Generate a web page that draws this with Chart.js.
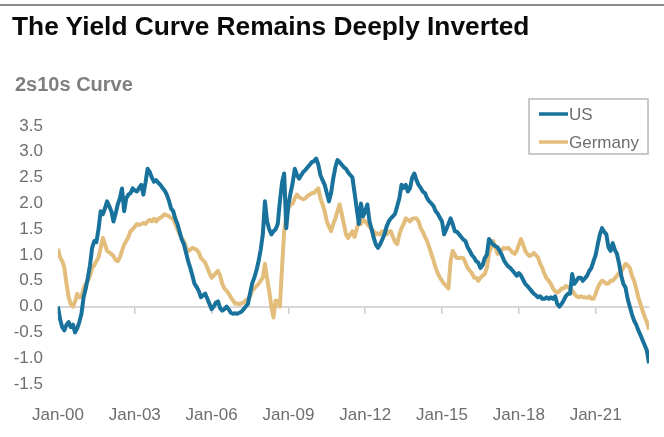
<!DOCTYPE html>
<html>
<head>
<meta charset="utf-8">
<script src="https://cdn.jsdelivr.net/npm/chart.js@4.4.1/dist/chart.umd.min.js"></script>
<style>
  html, body { margin: 0; padding: 0; background: #fff; overflow: hidden; }
  #wrap { position: relative; width: 664px; height: 437px; overflow: hidden; background: #fff; }
  #topRule { position: absolute; left: 0; top: 4px; width: 664px; height: 2px; background: #8c8c8c; }
  #title { position: absolute; left: 12px; top: 13px; font: bold 26.3px "Liberation Sans", Arial, sans-serif; line-height: 26px; color: #0a0a0a; white-space: nowrap; }
  #subtitle { position: absolute; left: 15px; top: 74px; font: bold 20px "Liberation Sans", Arial, sans-serif; line-height: 20px; color: #7f7f7f; white-space: nowrap; }
  canvas { position: absolute; left: -16px; top: 0; }
</style>
</head>
<body>
<div id="wrap">
  <canvas id="chart" width="680" height="460"></canvas>
  <div id="topRule"></div>
  <div id="title">The Yield Curve Remains Deeply Inverted</div>
  <div id="subtitle">2s10s Curve</div>
</div>
<script>
// Monthly 2s10s spreads (percentage points), January 2000 onward.
const seriesNames = ['US', 'Germany'];

const us = [
  0.00, -0.25, -0.40, -0.46, -0.35, -0.30, -0.40, -0.35, -0.50, -0.42, -0.30, -0.14, // 2000
  0.18, 0.35, 0.56, 0.80, 1.14, 1.27, 1.25, 1.50, 1.85, 1.79, 1.90, 2.04,             // 2001
  1.95, 1.85, 1.65, 1.80, 1.98, 2.10, 2.29, 1.85, 2.10, 2.17, 2.20, 2.29,             // 2002
  2.25, 2.23, 2.30, 2.36, 2.17, 2.40, 2.67, 2.61, 2.50, 2.42, 2.45, 2.40,             // 2003
  2.36, 2.30, 2.25, 2.17, 2.05, 1.90, 1.85, 1.70, 1.60, 1.45, 1.30, 1.21,             // 2004
  1.05, 0.88, 0.75, 0.60, 0.44, 0.38, 0.30, 0.18, 0.22, 0.25, 0.15, 0.05,             // 2005
  -0.05, 0.00, 0.08, 0.10, -0.03, -0.08, -0.05, 0.00, -0.05, -0.12, -0.14, -0.13,     // 2006
  -0.14, -0.12, -0.10, -0.05, 0.00, 0.05, 0.25, 0.45, 0.56, 0.70, 0.88, 1.10,         // 2007
  1.40, 2.04, 1.65, 1.50, 1.40, 1.46, 1.50, 1.60, 2.04, 2.40, 2.58, 1.52,             // 2008
  1.98, 2.20, 2.40, 2.67, 2.55, 2.48, 2.55, 2.61, 2.65, 2.70, 2.75, 2.80,             // 2009
  2.82, 2.87, 2.75, 2.55, 2.45, 2.36, 2.20, 2.04, 2.20, 2.48, 2.70, 2.84,             // 2010
  2.80, 2.75, 2.70, 2.67, 2.60, 2.55, 2.50, 2.20, 1.90, 1.60, 2.00, 1.75,             // 2011
  1.85, 1.98, 1.65, 1.50, 1.33, 1.20, 1.14, 1.21, 1.30, 1.40, 1.55, 1.65,             // 2012
  1.71, 1.75, 1.80, 1.95, 2.10, 2.36, 2.30, 2.36, 2.23, 2.30, 2.50, 2.58,             // 2013
  2.45, 2.36, 2.30, 2.23, 2.20, 2.10, 2.04, 2.00, 1.95, 1.85, 1.80, 1.72,             // 2014
  1.65, 1.40, 1.50, 1.60, 1.71, 1.60, 1.46, 1.45, 1.40, 1.35, 1.30, 1.27,             // 2015
  1.15, 1.08, 1.00, 0.95, 0.88, 0.85, 0.75, 0.80, 0.94, 1.00, 1.31, 1.25,             // 2016
  1.20, 1.17, 1.15, 1.08, 1.00, 0.90, 0.83, 0.78, 0.75, 0.70, 0.65, 0.60,             // 2017
  0.65, 0.60, 0.52, 0.44, 0.40, 0.35, 0.30, 0.25, 0.22, 0.18, 0.20, 0.15,             // 2018
  0.15, 0.18, 0.15, 0.18, 0.15, 0.20, 0.05, 0.00, 0.05, 0.12, 0.20, 0.25,             // 2019
  0.25, 0.63, 0.44, 0.50, 0.56, 0.56, 0.50, 0.55, 0.60, 0.69, 0.75, 0.88,             // 2020
  1.00, 1.21, 1.40, 1.52, 1.45, 1.40, 1.15, 1.08, 1.23, 1.10, 1.02, 0.83,             // 2021
  0.60, 0.44, 0.37, 0.15, 0.00, -0.15, -0.27, -0.35, -0.46, -0.55, -0.65, -0.75,      // 2022
  -0.85, -1.10                                                                        // 2023
];

const germany = [
  1.12, 0.95, 0.88, 0.75, 0.44, 0.18, 0.05, 0.00, 0.10, 0.25, 0.18, 0.20,             // 2000
  0.35, 0.44, 0.50, 0.60, 0.75, 0.80, 0.88, 0.95, 1.14, 1.33, 1.21, 1.08,             // 2001
  1.05, 1.02, 0.98, 0.90, 0.88, 0.95, 1.08, 1.20, 1.27, 1.35, 1.46, 1.50,             // 2002
  1.55, 1.60, 1.58, 1.60, 1.62, 1.60, 1.65, 1.68, 1.65, 1.70, 1.65, 1.70,             // 2003
  1.72, 1.75, 1.79, 1.77, 1.75, 1.72, 1.70, 1.60, 1.50, 1.40, 1.33, 1.27,             // 2004
  1.15, 1.08, 1.10, 1.14, 1.12, 1.10, 1.05, 0.94, 0.90, 0.85, 0.75, 0.65,             // 2005
  0.56, 0.60, 0.65, 0.69, 0.60, 0.44, 0.35, 0.31, 0.25, 0.18, 0.12, 0.06,             // 2006
  0.06, 0.05, 0.06, 0.08, 0.12, 0.15, 0.20, 0.31, 0.35, 0.40, 0.44, 0.50,             // 2007
  0.56, 0.83, 0.55, 0.30, 0.00, -0.21, 0.12, 0.10, 0.00, 0.75, 1.46, 1.75,            // 2008
  1.90, 1.98, 2.00, 2.10, 2.17, 2.12, 2.10, 2.08, 2.10, 2.15, 2.17, 2.20,             // 2009
  2.20, 2.25, 2.29, 2.10, 1.98, 1.85, 1.65, 1.55, 1.46, 1.60, 1.71, 1.85,             // 2010
  1.98, 1.80, 1.60, 1.40, 1.33, 1.40, 1.46, 1.35, 1.50, 1.65, 1.60, 1.69,             // 2011
  1.65, 1.60, 1.55, 1.50, 1.46, 1.40, 1.42, 1.40, 1.46, 1.42, 1.40, 1.45,             // 2012
  1.46, 1.35, 1.25, 1.21, 1.40, 1.52, 1.60, 1.71, 1.68, 1.65, 1.70, 1.71,             // 2013
  1.71, 1.65, 1.52, 1.45, 1.35, 1.27, 1.15, 1.02, 0.90, 0.75, 0.65, 0.56,             // 2014
  0.50, 0.44, 0.40, 0.35, 0.88, 1.08, 1.00, 0.94, 0.94, 0.95, 0.94, 0.85,             // 2015
  0.75, 0.70, 0.65, 0.56, 0.56, 0.50, 0.56, 0.60, 0.63, 0.75, 1.02, 1.15,             // 2016
  1.27, 1.15, 1.02, 1.05, 1.10, 1.14, 1.12, 1.14, 1.10, 1.05, 1.02, 1.08,             // 2017
  1.20, 1.31, 1.20, 1.08, 1.02, 0.98, 1.00, 1.04, 1.00, 0.95, 0.83, 0.75,             // 2018
  0.63, 0.55, 0.50, 0.44, 0.35, 0.30, 0.27, 0.30, 0.35, 0.35, 0.40, 0.38,             // 2019
  0.35, 0.31, 0.25, 0.20, 0.18, 0.20, 0.18, 0.18, 0.17, 0.20, 0.15, 0.15,             // 2020
  0.25, 0.37, 0.45, 0.50, 0.48, 0.44, 0.45, 0.50, 0.50, 0.55, 0.60, 0.65,             // 2021
  0.69, 0.75, 0.83, 0.80, 0.75, 0.60, 0.50, 0.35, 0.18, 0.05, -0.08, -0.20,           // 2022
  -0.30, -0.45                                                                        // 2023
];

const xTickLabels = ['Jan-00', 'Jan-03', 'Jan-06', 'Jan-09', 'Jan-12', 'Jan-15', 'Jan-18', 'Jan-21'];
const yTickValues = [-1.5, -1.0, -0.5, 0.0, 0.5, 1.0, 1.5, 2.0, 2.5, 3.0, 3.5];

// month index (0 = Jan-00) of each x tick, taken from the label's two-digit year
const xTickMonths = xTickLabels.map(l => parseInt(l.slice(4), 10) * 12);
const lastMonth = us.length - 1;

const toPoints = arr => arr.map((v, i) => ({ x: i, y: v }));
const setXTicks = scale => { scale.ticks = xTickMonths.map(v => ({ value: v })); };

const FONT = '"Liberation Sans", Arial, sans-serif';
const LABEL_GRAY = '#6e6e6e';

// Framed legend drawn at the upper right, anchored to the plot's right edge
const boxedLegend = {
  id: 'boxedLegend',
  afterDraw(chart, args, o) {
    const { ctx, chartArea } = chart;
    const left = chartArea.right - o.width - 1;
    const top = chartArea.top - o.raise;
    ctx.save();
    ctx.strokeStyle = '#b8b8b8';
    ctx.lineWidth = 1.5;
    ctx.strokeRect(left, top, o.width, o.height);
    ctx.font = '17px ' + FONT;
    ctx.textBaseline = 'middle';
    ctx.textAlign = 'left';
    chart.data.datasets.forEach((ds, i) => {
      const y = top + o.firstRow + i * o.rowGap;
      ctx.strokeStyle = ds.borderColor;
      ctx.lineWidth = 3.5;
      ctx.beginPath();
      ctx.moveTo(left + 10, y);
      ctx.lineTo(left + 39, y);
      ctx.stroke();
      ctx.fillStyle = LABEL_GRAY;
      ctx.fillText(ds.label, left + 40, y + 1);
    });
    ctx.restore();
  }
};

new Chart(document.getElementById('chart'), {
  type: 'line',
  data: {
    datasets: [
      {
        label: seriesNames[0],
        data: toPoints(us),
        borderColor: '#18729c',
        borderWidth: 4,
        pointRadius: 0,
        tension: 0,
        borderJoinStyle: 'round',
        xAxisID: 'x', yAxisID: 'y'
      },
      {
        label: seriesNames[1],
        data: toPoints(germany),
        borderColor: '#e3bd7c',
        borderWidth: 4,
        pointRadius: 0,
        tension: 0,
        borderJoinStyle: 'round',
        xAxisID: 'x', yAxisID: 'y'
      }
    ]
  },
  options: {
    responsive: false,
    animation: false,
    devicePixelRatio: 1,
    layout: { padding: { left: 14.7, right: 15, top: 126, bottom: 13.6 } },
    plugins: {
      legend: { display: false },
      title: { display: false },
      tooltip: { enabled: false },
      boxedLegend: { width: 119, height: 55, raise: 27, firstRow: 15, rowGap: 28 }
    },
    scales: {
      x: {
        type: 'linear',
        position: 'bottom',
        min: 0,
        max: lastMonth,
        afterBuildTicks: setXTicks,
        grid: { display: false, drawTicks: false },
        border: { display: false },
        ticks: {
          padding: 21,
          color: LABEL_GRAY,
          font: { family: FONT, size: 17 },
          maxRotation: 0,
          autoSkip: false,
          callback: v => xTickLabels[xTickMonths.indexOf(v)] ?? ''
        }
      },
      // zero line with small tick marks under it
      xZero: {
        type: 'linear',
        position: { y: 0 },
        min: 0,
        max: lastMonth,
        afterBuildTicks: setXTicks,
        grid: { display: true, drawOnChartArea: false, drawTicks: true, tickLength: 6, color: '#cdcdcd', lineWidth: 1.5 },
        border: { display: true, color: '#d6d6d6', width: 2 },
        ticks: { display: false }
      },
      y: {
        min: -1.5,
        max: 3.5,
        afterBuildTicks: scale => { scale.ticks = yTickValues.map(v => ({ value: v })); },
        grid: { display: false, drawTicks: false },
        border: { display: false },
        ticks: {
          padding: 15,
          color: LABEL_GRAY,
          font: { family: FONT, size: 17 },
          callback: v => v.toFixed(1)
        }
      }
    }
  },
  plugins: [boxedLegend]
});
</script>
</body>
</html>
